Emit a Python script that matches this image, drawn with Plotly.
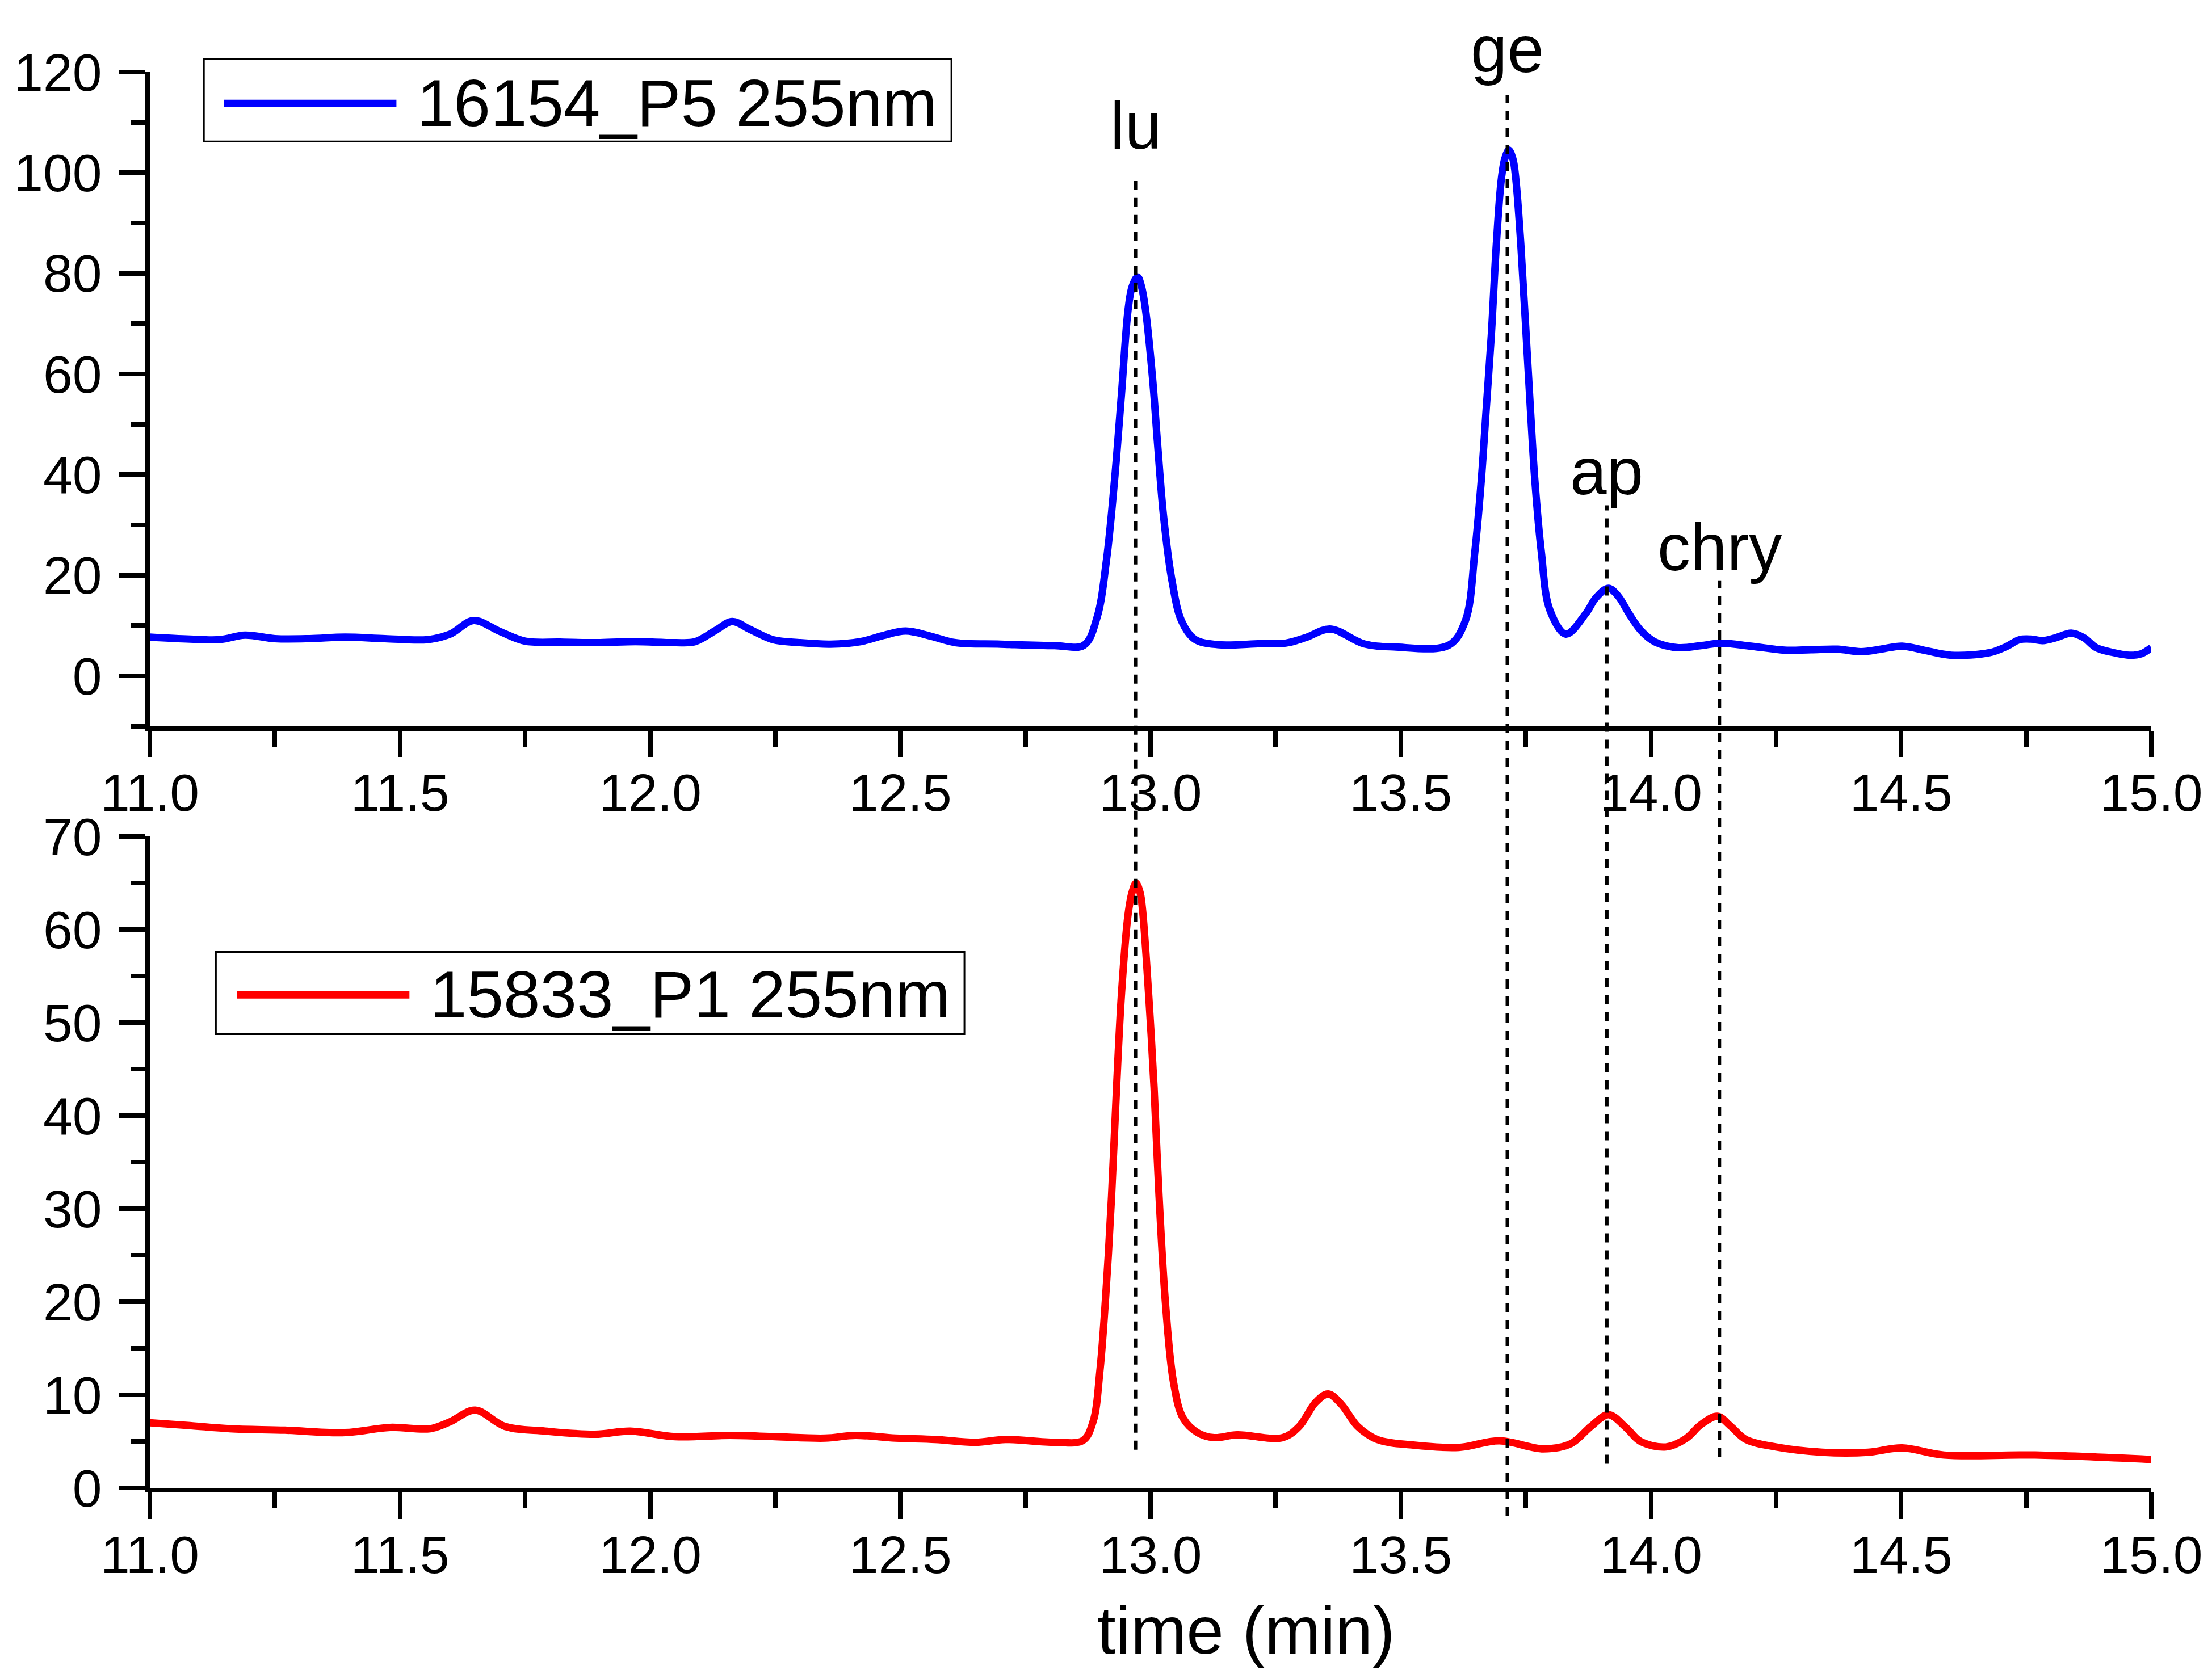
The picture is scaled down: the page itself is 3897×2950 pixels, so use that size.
import plotly.graph_objects as go

# 16154_P5, 255 nm (top panel)
t_top = [11.00, 11.08, 11.14, 11.19, 11.25, 11.32, 11.39, 11.47, 11.555, 11.60,
         11.647, 11.70, 11.75, 11.82, 11.90, 11.97, 12.05, 12.09, 12.13, 12.164,
         12.20, 12.245, 12.30, 12.36, 12.42, 12.465, 12.511, 12.56, 12.61, 12.70,
         12.808, 12.867, 12.893, 12.912, 12.928, 12.942, 12.955, 12.963, 12.974, 12.982,
         12.99, 13.004, 13.014, 13.026, 13.043, 13.062, 13.088, 13.134, 13.219, 13.27,
         13.31, 13.359, 13.427, 13.486, 13.596, 13.629, 13.648, 13.661, 13.671, 13.681,
         13.691, 13.701, 13.708, 13.716, 13.724, 13.730, 13.740, 13.749, 13.759, 13.768,
         13.781, 13.798, 13.830, 13.87, 13.89, 13.915, 13.935, 13.956, 13.98, 14.009,
         14.055, 14.10, 14.138, 14.20, 14.267, 14.32, 14.373, 14.42, 14.46, 14.502,
         14.55, 14.60, 14.677, 14.71, 14.737, 14.76, 14.783, 14.81, 14.84, 14.865,
         14.89, 14.925, 14.957, 14.98, 15.00]
y_top = [7.7, 7.3, 7.2, 8.1, 7.4, 7.4, 7.7, 7.4, 7.2, 8.3,
         11.0, 8.8, 6.9, 6.7, 6.6, 6.8, 6.6, 6.8, 9.0, 10.8,
         9.2, 7.2, 6.6, 6.3, 6.8, 8.0, 8.9, 7.9, 6.6, 6.3,
         6.0, 6.1, 11.6, 23.1, 38.9, 56.2, 72.7, 77.3, 79.3, 77.3,
         72.7, 59.1, 46.1, 31.7, 18.8, 10.9, 7.3, 6.2, 6.4, 6.5,
         7.6, 9.3, 6.35, 5.75, 6.1, 10.9, 24.6, 38.9, 53.3, 67.7,
         85.7, 98.7, 102.8, 104.5, 102.8, 98.7, 85.7, 70.6, 53.3, 38.9,
         24.6, 13.1, 8.3, 12.4, 15.5, 17.4, 15.8, 12.4, 9.0, 6.7,
         5.6, 6.0, 6.5, 5.9, 5.1, 5.2, 5.3, 4.8, 5.3, 5.9,
         5.0, 4.1, 4.6, 5.8, 7.2, 7.3, 7.0, 7.6, 8.5, 7.6,
         5.6, 4.6, 4.1, 4.4, 5.6]

# 15833_P1, 255 nm (bottom panel)
t_bot = [11.00, 11.08, 11.16, 11.27, 11.39, 11.48, 11.56, 11.60, 11.65, 11.71,
         11.79, 11.89, 11.96, 12.05, 12.16, 12.25, 12.35, 12.41, 12.49, 12.57,
         12.65, 12.71, 12.808, 12.865, 12.885, 12.899, 12.912, 12.922, 12.932, 12.942,
         12.955, 12.963, 12.971, 12.979, 12.984, 12.997, 13.007, 13.017, 13.030, 13.046,
         13.065, 13.095, 13.127, 13.173, 13.264, 13.297, 13.33, 13.355, 13.381, 13.414,
         13.453, 13.525, 13.616, 13.697, 13.785, 13.84, 13.88, 13.915, 13.95, 13.979,
         14.03, 14.07, 14.10, 14.133, 14.16, 14.19, 14.25, 14.343, 14.434, 14.502,
         14.586, 14.768, 15.00]
y_bot = [7.0, 6.7, 6.36, 6.2, 5.94, 6.5, 6.36, 7.1, 8.35, 6.6,
         6.1, 5.76, 6.1, 5.5, 5.64, 5.5, 5.35, 5.64, 5.35, 5.2,
         4.9, 5.2, 4.9, 5.1, 7.1, 12.7, 22.0, 31.3, 43.0, 53.2,
         61.6, 64.0, 65.0, 64.0, 62.1, 52.3, 43.0, 31.3, 19.7, 11.3,
         7.5, 5.9, 5.4, 5.7, 5.4, 6.6, 9.2, 10.1, 9.0, 6.6,
         5.2, 4.6, 4.35, 5.06, 4.2, 4.75, 6.6, 7.87, 6.5, 5.0,
         4.4, 5.3, 6.8, 7.7, 6.6, 5.2, 4.4, 3.83, 3.83, 4.3,
         3.53, 3.53, 3.05]

peak_names = ["lu", "ge", "ap", "chry"]
peak_times = [12.97, 13.713, 13.912, 14.137]

x_ticks = [11.0, 11.5, 12.0, 12.5, 13.0, 13.5, 14.0, 14.5, 15.0]

FONT = "Arial, Liberation Sans, sans-serif"
BLUE = "#0000ff"
RED = "#ff0000"

# vertical placement of marker lines and labels (paper coords)
line_top = [0.923, 0.984, 0.694, 0.641]
line_bottom = [0.027, -0.020, 0.017, 0.022]
label_y = [0.962, 1.016, 0.718, 0.664]

fig = go.Figure()
fig.add_trace(go.Scatter(x=t_top, y=y_top, mode="lines", name="16154_P5 255nm",
                         line=dict(color=BLUE, width=13, shape="spline", smoothing=1.0),
                         xaxis="x", yaxis="y", showlegend=False))
fig.add_trace(go.Scatter(x=t_bot, y=y_bot, mode="lines", name="15833_P1 255nm",
                         line=dict(color=RED, width=13, shape="spline", smoothing=1.0),
                         xaxis="x2", yaxis="y2", showlegend=False))

axis_common = dict(showline=True, linewidth=8, linecolor="black", ticks="outside",
                   tickwidth=8, tickcolor="black", ticklen=46, showgrid=False,
                   zeroline=False, tickfont=dict(family=FONT, size=93, color="black"))
x_minor = dict(ticks="outside", ticklen=28, tickwidth=8, tickcolor="black", dtick=0.25)

fig.update_layout(
    width=3897, height=2950,
    margin=dict(l=256, r=115, t=119, b=336),
    plot_bgcolor="white", paper_bgcolor="white",
    font=dict(family=FONT, color="black"),
    xaxis=dict(axis_common, range=[11, 15], anchor="y", tickvals=x_ticks,
               tickformat=".1f", ticklabelstandoff=-16, minor=x_minor),
    yaxis=dict(axis_common, range=[-10, 120], domain=[0.538, 1.0], anchor="x",
               tick0=0, dtick=20, ticklabelstandoff=12,
               minor=dict(ticks="outside", ticklen=26, tickwidth=8,
                          tickcolor="black", dtick=10, tick0=0)),
    xaxis2=dict(axis_common, range=[11, 15], anchor="y2", tickvals=x_ticks,
                tickformat=".1f", ticklabelstandoff=-16, minor=x_minor),
    yaxis2=dict(axis_common, range=[0, 70], domain=[0.0, 0.460], anchor="x2",
                tick0=0, dtick=10, ticklabelstandoff=12,
                minor=dict(ticks="outside", ticklen=26, tickwidth=8,
                           tickcolor="black", dtick=5, tick0=0)),
)

# dotted marker lines across both panels, with compound labels
for name, t, y0, y1, ly in zip(peak_names, peak_times, line_bottom, line_top, label_y):
    fig.add_shape(type="line", xref="x", yref="paper", x0=t, x1=t, y0=y0, y1=y1,
                  line=dict(color="black", width=6, dash="16px,14px"), layer="above")
    fig.add_annotation(x=t, y=ly, xref="x", yref="paper", text=name, showarrow=False,
                       xanchor="center", yanchor="middle",
                       font=dict(family=FONT, size=116, color="black"))

# boxed legends in the Origin style
legends = [
    dict(xr="x domain", yr="y domain", box=(0.027, 0.894, 0.4005, 1.020),
         line=(0.037, 0.1232, 0.952), text_x=0.1329, color=BLUE, text="16154_P5 255nm"),
    dict(xr="x2 domain", yr="y2 domain", box=(0.033, 0.6966, 0.407, 0.823),
         line=(0.0435, 0.1297, 0.757), text_x=0.1394, color=RED, text="15833_P1 255nm"),
]
for lg in legends:
    bx0, by0, bx1, by1 = lg["box"]
    fig.add_shape(type="rect", xref=lg["xr"], yref=lg["yr"], x0=bx0, y0=by0, x1=bx1, y1=by1,
                  line=dict(color="black", width=3), fillcolor="white", layer="above")
    lx0, lx1, ly = lg["line"]
    fig.add_shape(type="line", xref=lg["xr"], yref=lg["yr"], x0=lx0, x1=lx1, y0=ly, y1=ly,
                  line=dict(color=lg["color"], width=13), layer="above")
    fig.add_annotation(x=lg["text_x"], y=ly, xref=lg["xr"], yref=lg["yr"], text=lg["text"],
                       showarrow=False, xanchor="left", yanchor="middle",
                       font=dict(family=FONT, size=116, color="black"))

fig.add_annotation(x=0.5476, y=-0.1008, xref="paper", yref="paper", text="time (min)",
                   showarrow=False, xanchor="center", yanchor="middle",
                   font=dict(family=FONT, size=118, color="black"))

fig.write_html("out.html")
